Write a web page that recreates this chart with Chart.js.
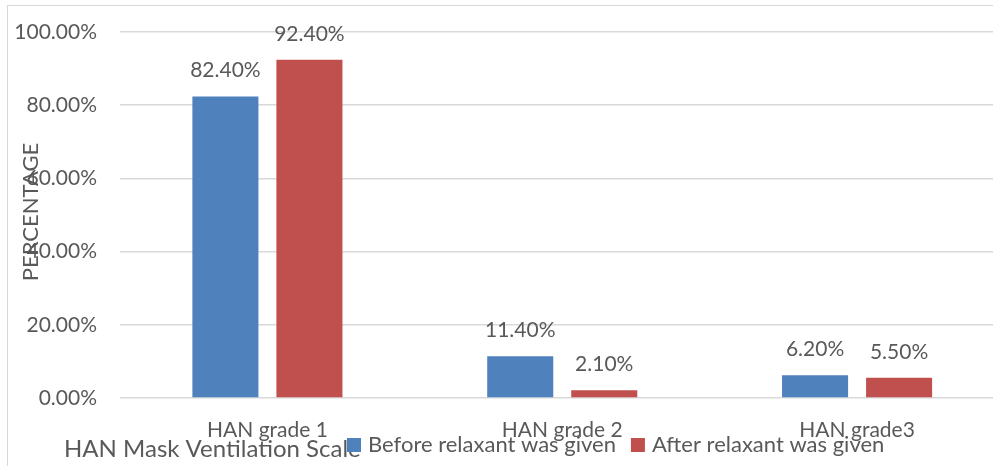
<!DOCTYPE html>
<html>
<head>
<meta charset="utf-8">
<title>HAN Mask Ventilation Scale</title>
<script src="https://cdn.jsdelivr.net/npm/chart.js@4.4.0/dist/chart.umd.min.js"></script>
<style>
  html, body { margin: 0; padding: 0; background: #fff; overflow: hidden; }
  #frame { position: absolute; left: 7px; top: 5px; width: 1100px; height: 600px; border: 1.5px solid #d9d9d9; }
  #wrap { position: absolute; left: 0; top: 0; width: 1012px; height: 466px; }
</style>
</head>
<body>
<div id="frame"></div>
<div id="wrap"><canvas id="myChart" width="1012" height="466"></canvas></div>
<script>
'use strict';

//Chart data
let categories = ['HAN grade 1', 'HAN grade 2', 'HAN grade3'];
let beforeValues = [82.4, 11.4, 6.2];
let afterValues = [92.4, 2.1, 5.5];
let seriesNames = ['Before relaxant was given', 'After relaxant was given'];
let seriesColors = ['#4f81bd', '#c0504d'];
let yTicks = [0, 20, 40, 60, 80, 100];
let xTitle = 'HAN Mask Ventilation Scale';
let yTitle = 'PERCENTAGE';

let textColor = '#595959';
let fontFamily = 'Lato, "Open Sans", sans-serif';

Chart.defaults.font.family = fontFamily;
Chart.defaults.font.size = 21;
Chart.defaults.color = textColor;

// draws value labels, axis titles and legend on top of the chart
let overlayText = {
  id: 'overlayText',
  afterDatasetsDraw(chart) {
    let ctx = chart.ctx;
    let area = chart.chartArea;
    ctx.save();
    ctx.fillStyle = textColor;
    ctx.textBaseline = 'alphabetic';

    // value labels above bars
    ctx.font = '21px ' + fontFamily;
    ctx.textAlign = 'center';
    chart.data.datasets.forEach((ds, i) => {
      chart.getDatasetMeta(i).data.forEach((bar, j) => {
        ctx.fillText(ds.data[j].toFixed(2) + '%', bar.x, bar.y - 19);
      });
    });

    // y axis title (overlaps tick labels like the original)
    ctx.save();
    ctx.font = '22px ' + fontFamily;
    ctx.translate(38, (area.top + area.bottom) / 2 - 3);
    ctx.rotate(-Math.PI / 2);
    ctx.fillText(yTitle, 0, 0);
    ctx.restore();

    // x axis title
    ctx.textAlign = 'left';
    ctx.font = '24px ' + fontFamily;
    ctx.fillText(xTitle, 64, 457);

    // legend
    ctx.font = '22px ' + fontFamily;
    let x = 347;
    chart.data.datasets.forEach((ds) => {
      ctx.fillStyle = ds.backgroundColor;
      ctx.fillRect(x, 438, 14, 14);
      ctx.fillStyle = textColor;
      ctx.fillText(ds.label, x + 21, 452);
      x += 21 + ctx.measureText(ds.label).width + 15;
    });
    ctx.restore();
  }
};

let ctx = document.getElementById('myChart').getContext('2d');
let myChart = new Chart(ctx, { // eslint-disable-line
  type: 'bar',
  data: {
    labels: categories,
    datasets: [
      {
        label: seriesNames[0],
        data: beforeValues,
        backgroundColor: seriesColors[0],
        categoryPercentage: 0.57,
        barPercentage: 0.786
      },
      {
        label: seriesNames[1],
        data: afterValues,
        backgroundColor: seriesColors[1],
        categoryPercentage: 0.57,
        barPercentage: 0.786
      }
    ]
  },
  options: {
    responsive: false,
    animation: false,
    layout: {
      padding: { left: 0, right: 7.5, top: 32, bottom: 0 }
    },
    plugins: {
      legend: { display: false },
      tooltip: { enabled: false }
    },
    scales: {
      x: {
        grid: { display: false },
        border: { display: false },
        ticks: { padding: 12 },
        afterFit: (scale) => { scale.height = 68; }
      },
      y: {
        min: 0,
        max: 100,
        grid: { color: '#d9d9d9', lineWidth: 1.5, drawTicks: false },
        border: { display: false },
        ticks: {
          padding: 23,
          callback: (value) => value.toFixed(2) + '%'
        },
        afterBuildTicks: (scale) => { scale.ticks = yTicks.map(v => ({ value: v })); },
        afterFit: (scale) => {
          scale.width = 120;
          scale.paddingTop = 0;
        }
      }
    }
  },
  plugins: [overlayText]
});
</script>
</body>
</html>
